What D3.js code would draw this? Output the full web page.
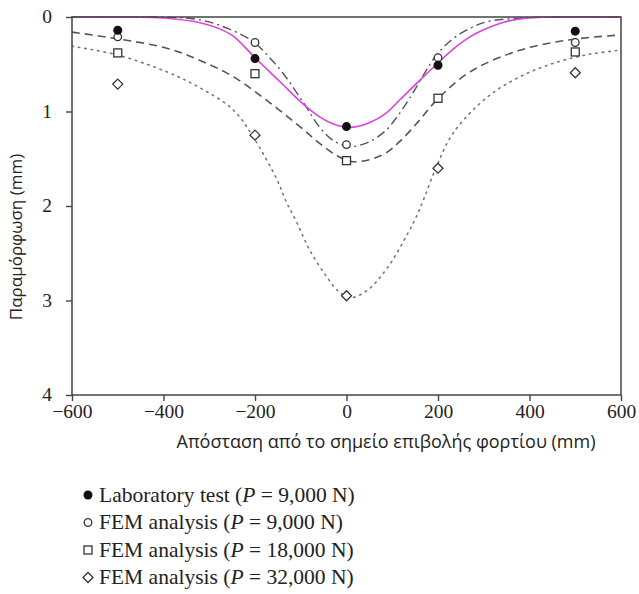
<!DOCTYPE html>
<html><head><meta charset="utf-8">
<script src="https://cdn.jsdelivr.net/npm/d3@7"></script>
<style>body{margin:0;background:#fff}</style>
</head><body>
<svg id="c" width="639" height="594"></svg>
<script>
const xTicks = [-600,-400,-200,0,200,400,600];
const yTicks = [0,1,2,3,4];
const positions = [-500,-200,0,200,500];
const labPts   = [0.14,0.44,1.16,0.51,0.15];
const fem9Pts  = [0.21,0.27,1.35,0.43,0.27];
const fem18Pts = [0.38,0.60,1.52,0.86,0.37];
const fem32Pts = [0.71,1.25,2.95,1.60,0.59];
// curve samples [x, deflection]
const labCurve = [[-600,0],[-467,0],[-400,0.01],[-320,0.06],[-280,0.12],[-248,0.2],[-204,0.41],[-170,0.57],[-138,0.72],[-95,0.92],[-58,1.06],[-30,1.13],[7,1.17],[50,1.12],[86,1.02],[120,0.86],[160,0.67],[197,0.5],[233,0.34],[270,0.21],[307,0.12],[340,0.06],[380,0.02],[452,0],[600,0]];
const fem9Curve = [[-600,0],[-400,0],[-320,0.03],[-260,0.12],[-204,0.26],[-170,0.42],[-138,0.6],[-95,0.9],[-58,1.17],[-25,1.32],[11,1.37],[50,1.32],[86,1.2],[110,1.06],[138,0.86],[170,0.6],[197,0.4],[233,0.23],[270,0.12],[307,0.05],[380,0.01],[450,0],[600,0]];
const fem18Curve = [[-600,0.16],[-502,0.23],[-393,0.33],[-320,0.46],[-248,0.63],[-175,0.88],[-102,1.16],[-58,1.34],[-20,1.47],[11,1.53],[50,1.51],[86,1.44],[120,1.3],[160,1.09],[197,0.88],[270,0.58],[380,0.35],[490,0.24],[600,0.19]];
const fem32Curve = [[-600,0.31],[-502,0.40],[-393,0.58],[-320,0.75],[-248,0.98],[-204,1.27],[-152,1.72],[-133,1.94],[-108,2.18],[-80,2.47],[-43,2.75],[-16,2.91],[10,2.97],[46,2.89],[90,2.65],[134,2.29],[154,2.1],[171,1.9],[197,1.58],[233,1.23],[307,0.85],[380,0.63],[452,0.49],[525,0.40],[600,0.35]];
const legendLabels = [["Laboratory test (","P"," = 9,000 N)"],["FEM analysis (","P"," = 9,000 N)"],["FEM analysis (","P"," = 18,000 N)"],["FEM analysis (","P"," = 32,000 N)"]];

const svg = d3.select("#c");
const L=72, R=621, T=17, B=395;
const x = d3.scaleLinear().domain([-600,600]).range([L,R]);
const y = d3.scaleLinear().domain([0,4]).range([T,B]);
const serif = "'Liberation Serif','Times New Roman',serif";
const grey = "#555";

// curves
const line = d3.line().x(d=>x(d[0])).y(d=>y(d[1])).curve(d3.curveCatmullRom.alpha(0.5));
const g = svg.append("g");
g.append("path").attr("d",line(fem32Curve)).attr("fill","none").attr("stroke","#777").attr("stroke-width",1.6).attr("stroke-dasharray","1.5 5").attr("stroke-linecap","round");
g.append("path").attr("d",line(fem18Curve)).attr("fill","none").attr("stroke",grey).attr("stroke-width",1.6).attr("stroke-dasharray","8 5");
g.append("path").attr("d",line(fem9Curve)).attr("fill","none").attr("stroke",grey).attr("stroke-width",1.4).attr("stroke-dasharray","9 4 2 4");
g.append("path").attr("d",line(labCurve)).attr("fill","none").attr("stroke","#e040e0").attr("stroke-width",1.6);

// frame
svg.append("rect").attr("x",L).attr("y",T).attr("width",R-L).attr("height",B-T).attr("fill","none").attr("stroke","#444").attr("stroke-width",1.5);

// axes
const xa = svg.append("g").attr("transform",`translate(0,${B})`).call(d3.axisBottom(x).tickValues(xTicks).tickSize(6).tickSizeOuter(0).tickPadding(2).tickFormat(d=>d<0?"\u2212"+Math.abs(d):String(d)));
const ya = svg.append("g").attr("transform",`translate(${L},0)`).call(d3.axisLeft(y).tickValues(yTicks).tickSize(6).tickSizeOuter(0).tickFormat(d3.format("d")));
[xa,ya].forEach(a=>{
  a.attr("font-family",null).attr("font-size",null);
  a.select(".domain").remove();
  a.selectAll("line").attr("stroke","#444").attr("stroke-width",1.4);
  a.selectAll("text").style("font-family",serif).style("font-size","19.5px").attr("fill","#222");
});
xa.selectAll("text").attr("dy","0.78em");
ya.selectAll("text").attr("x",-20).attr("dy","0.3em");

// markers
function marker(gg,type,cx,cy){
  if(type==="fc") gg.append("circle").attr("cx",cx).attr("cy",cy).attr("r",4.5).attr("fill","#111");
  else if(type==="oc") gg.append("circle").attr("cx",cx).attr("cy",cy).attr("r",3.8).attr("fill","#fff").attr("stroke","#333").attr("stroke-width",1.3);
  else if(type==="sq") gg.append("rect").attr("x",cx-4).attr("y",cy-4).attr("width",8).attr("height",8).attr("fill","#fff").attr("stroke","#333").attr("stroke-width",1.3);
  else gg.append("path").attr("d",`M${cx},${cy-5}L${cx+5},${cy}L${cx},${cy+5}L${cx-5},${cy}Z`).attr("fill","#fff").attr("stroke","#333").attr("stroke-width",1.3);
}
function drawPts(vals, type){
  const gg = svg.append("g");
  positions.forEach((p,i)=>marker(gg,type,x(p),y(vals[i])));
}
drawPts(fem32Pts,"di");
drawPts(fem18Pts,"sq");
drawPts(fem9Pts,"oc");
drawPts(labPts,"fc");

// titles
svg.append("text").attr("x",386).attr("y",448).attr("text-anchor","middle").style("font-family","'Open Sans',sans-serif").style("font-size","18px").attr("fill","#222").text("Απόσταση από το σημείο επιβολής φορτίου (mm)");
svg.append("text").attr("transform","translate(22,237) rotate(-90)").attr("text-anchor","middle").style("font-family","'Open Sans',sans-serif").style("font-size","17px").attr("fill","#222").text("Παραμόρφωση (mm)");

// legend
const types=["fc","oc","sq","di"];
const lg = svg.append("g");
legendLabels.forEach((lab,i)=>{
  const yy = 495 + i*27.5;
  marker(lg,types[i],88,yy);
  const t = lg.append("text").attr("x",99).attr("y",yy+6.5).style("font-family",serif).style("font-size","21.5px").attr("fill","#222");
  t.append("tspan").text(lab[0]);
  t.append("tspan").attr("font-style","italic").text(lab[1]);
  t.append("tspan").text(lab[2]);
});
</script>
</body></html>
